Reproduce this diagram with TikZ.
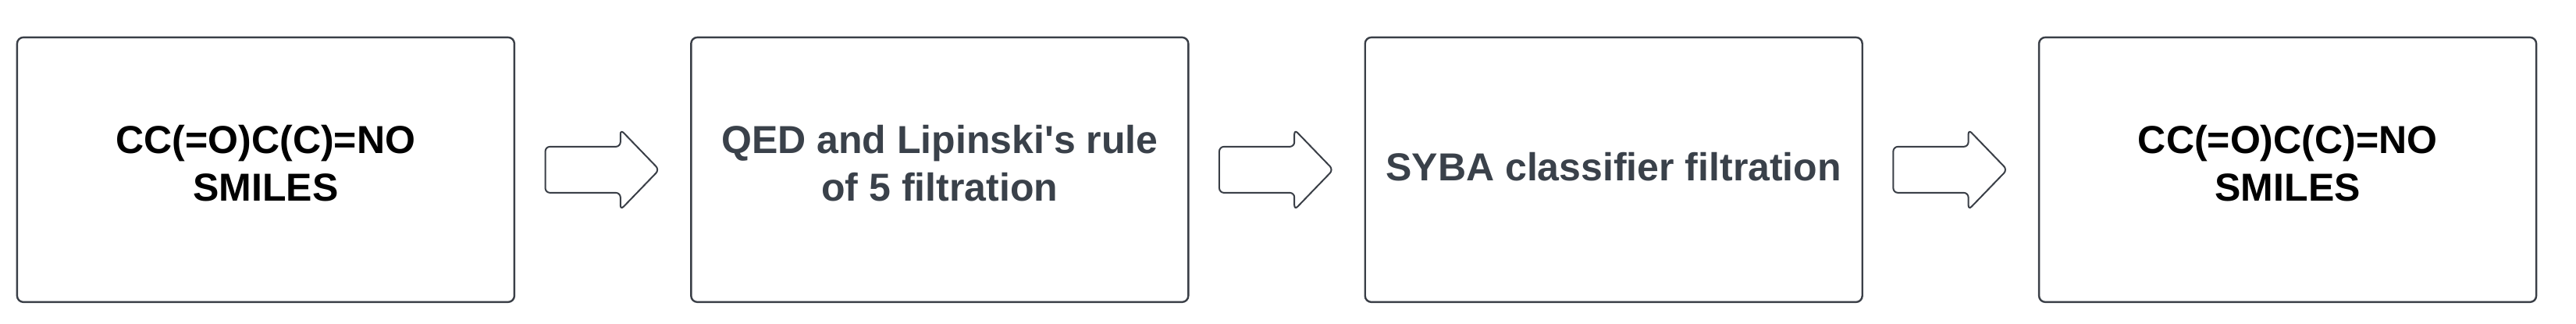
\documentclass[tikz,border=0pt]{standalone}
\usepackage{fontspec}
\setmainfont{Liberation Sans}
\usepackage{xcolor}
\usetikzlibrary{positioning, shapes.arrows}

\definecolor{edgegray}{HTML}{3A3F47}
\definecolor{stepslate}{HTML}{3A414A}

% extra depth under the last line, so the text sits a little high in its box
\newcommand{\liftpad}[1]{\rule[-#1]{0pt}{0pt}}

\begin{document}
\begin{tikzpicture}[node distance=56pt, line width=0.6pt,
  box/.style={draw=edgegray, rounded corners=2pt, minimum width=159.25pt, minimum height=84.75pt, inner sep=0pt, align=center, font=\fontsize{12.5}{15.25}\selectfont\bfseries},
  fatarrow/.style={single arrow, draw=edgegray, line width=0.5pt, inner xsep=0pt, inner ysep=7.125pt, minimum height=36.5pt, single arrow head extend=5.5pt, single arrow tip angle=92, rounded corners=1.5pt, xshift=-3.7pt}]

\useasboundingbox (0,0) rectangle (825pt,103.75pt);

% input SMILES, the two filtration steps and the output SMILES
\node[box] (smilesin) at (85.1pt,49.4pt) {CC(=O)C(C)=NO\\SMILES\liftpad{4.2pt}};
\node[box, right=of smilesin, text=stepslate] (qed) {QED and Lipinski\textquotesingle s rule\\of 5 filtration\liftpad{4.2pt}};
\node[box, right=of qed, text=stepslate] (syba) {SYBA classifier filtration\liftpad{2pt}};
\node[box, right=of syba] (smilesout) {CC(=O)C(C)=NO\\SMILES\liftpad{4.2pt}};

% block arrows between the boxes
\path (smilesin) -- (qed) node[midway, fatarrow] (arr1) {};
\path (qed) -- (syba) node[midway, fatarrow] (arr2) {};
\path (syba) -- (smilesout) node[midway, fatarrow] (arr3) {};

\end{tikzpicture}
\end{document}
